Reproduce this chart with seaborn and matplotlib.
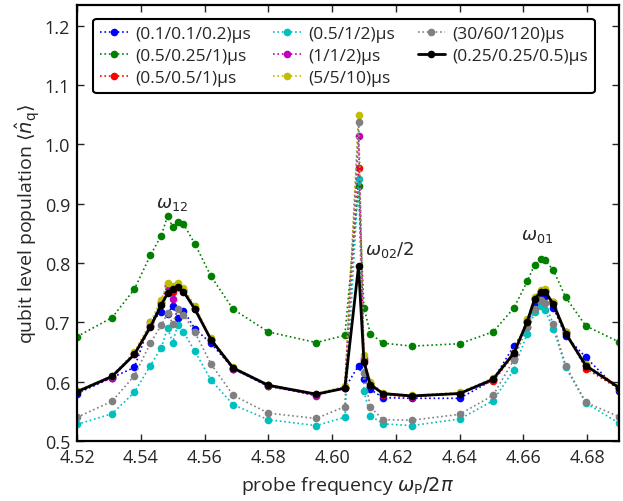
import numpy as np
import pandas as pd
import seaborn as sns
import matplotlib
matplotlib.use('Agg')
import matplotlib.pyplot as plt

# probe frequency grid (GHz)
freq = [4.520, 4.531, 4.538, 4.543, 4.5464, 4.5484, 4.550, 4.5516, 4.5534, 4.557,
        4.562, 4.569, 4.580, 4.595, 4.604, 4.6083, 4.610, 4.612, 4.616, 4.625,
        4.640, 4.6505, 4.657, 4.6612, 4.6635, 4.6654, 4.6667, 4.6694, 4.6733, 4.6796,
        4.690]

pop_01 = [0.580, 0.607, 0.624, 0.700, 0.717, 0.714, 0.728, 0.708, 0.720, 0.689,
          0.665, 0.622, 0.592, 0.578, 0.589, 0.627, 0.604, 0.587, 0.573, 0.572,
          0.572, 0.603, 0.660, 0.692, 0.730, 0.743, 0.745, 0.725, 0.677, 0.641,
          0.585]
pop_05_025 = [0.676, 0.708, 0.756, 0.813, 0.846, 0.879, 0.861, 0.870, 0.866, 0.832,
              0.778, 0.722, 0.684, 0.666, 0.678, 0.930, 0.725, 0.681, 0.665, 0.660,
              0.664, 0.684, 0.724, 0.769, 0.797, 0.806, 0.805, 0.788, 0.742, 0.694,
              0.667]
pop_05_05 = [0.585, 0.607, 0.648, 0.695, 0.735, 0.763, 0.752, 0.760, 0.755, 0.723,
             0.672, 0.622, 0.593, 0.577, 0.590, 0.960, 0.636, 0.597, 0.578, 0.574,
             0.581, 0.601, 0.645, 0.700, 0.740, 0.752, 0.753, 0.733, 0.683, 0.622,
             0.588]
pop_05_1 = [0.528, 0.546, 0.582, 0.627, 0.657, 0.691, 0.666, 0.696, 0.684, 0.651,
            0.603, 0.561, 0.536, 0.526, 0.540, 0.941, 0.584, 0.543, 0.529, 0.526,
            0.537, 0.568, 0.620, 0.681, 0.717, 0.727, 0.721, 0.689, 0.624, 0.564,
            0.530]
pop_1_1 = [0.584, 0.606, 0.647, 0.694, 0.733, 0.762, 0.739, 0.761, 0.754, 0.724,
           0.670, 0.621, 0.594, 0.576, 0.591, 1.014, 0.640, 0.598, 0.579, 0.575,
           0.580, 0.605, 0.647, 0.702, 0.741, 0.753, 0.754, 0.734, 0.683, 0.628,
           0.591]
pop_5_5 = [0.585, 0.610, 0.650, 0.700, 0.738, 0.767, 0.761, 0.767, 0.758, 0.728,
           0.673, 0.625, 0.595, 0.580, 0.592, 1.050, 0.645, 0.600, 0.581, 0.577,
           0.582, 0.606, 0.650, 0.705, 0.743, 0.755, 0.756, 0.735, 0.684, 0.629,
           0.592]
pop_30_60 = [0.540, 0.567, 0.610, 0.665, 0.695, 0.715, 0.698, 0.722, 0.713, 0.683,
             0.630, 0.577, 0.547, 0.538, 0.558, 1.038, 0.614, 0.557, 0.536, 0.535,
             0.545, 0.577, 0.637, 0.693, 0.722, 0.737, 0.733, 0.697, 0.627, 0.565,
             0.541]
pop_025 = [0.583, 0.609, 0.646, 0.692, 0.729, 0.749, 0.757, 0.759, 0.752, 0.722,
           0.671, 0.623, 0.594, 0.579, 0.589, 0.795, 0.633, 0.595, 0.580, 0.576,
           0.580, 0.604, 0.648, 0.701, 0.739, 0.751, 0.752, 0.731, 0.681, 0.627,
           0.590]

labels = ['(0.1/0.1/0.2)µs', '(0.5/0.25/1)µs', '(0.5/0.5/1)µs', '(0.5/1/2)µs',
          '(1/1/2)µs', '(5/5/10)µs', '(30/60/120)µs', '(0.25/0.25/0.5)µs']
series = [pop_01, pop_05_025, pop_05_05, pop_05_1, pop_1_1, pop_5_5, pop_30_60, pop_025]
colors = ['#0000ff', '#008000', '#ff0000', '#00bfbf', '#bf00bf', '#bfbf00', '#808080', '#000000']

sns.set_style('ticks')
plt.rcParams['font.family'] = ['Open Sans', 'DejaVu Sans']
plt.rcParams['mathtext.fontset'] = 'dejavusans'

fig = plt.figure(figsize=(6.23, 5.02), dpi=100)
ax = fig.add_axes([0.1236, 0.1195, 0.87, 0.8685])

for vals, lab, col in zip(series, labels, colors):
    solid = col == '#000000'
    sns.lineplot(x=freq, y=vals, ax=ax, color=col, label=lab, sort=False,
                 linestyle='-' if solid else ':', linewidth=2.0 if solid else 1.2,
                 marker='o', markersize=5.5, markeredgewidth=0)

ax.set_xlim(4.52, 4.69)
ax.set_ylim(0.5, 1.235)
xt = np.arange(4.52, 4.681, 0.02)
yt = np.arange(0.5, 1.21, 0.1)
ax.set_xticks(xt)
ax.set_yticks(yt)
ax.set_xticklabels(['%.2f' % t for t in xt])
ax.set_yticklabels(['%.1f' % t for t in yt])
ax.tick_params(direction='in', top=True, right=True, length=5, width=1,
               labelsize=13, pad=5)
for s in ax.spines.values():
    s.set_linewidth(1.6)
    s.set_color('black')

ax.set_xlabel(r'probe frequency $\omega_{\rm P}/2\pi$', fontsize=14, labelpad=6)
ax.set_ylabel(r'qubit level population $\langle\hat{n}_{\rm q}\rangle$', fontsize=14, labelpad=2)

ax.text(4.5498, 0.902, r'$\omega_{12}$', fontsize=13, ha='center', va='center')
ax.text(4.6102, 0.823, r'$\omega_{02}/2$', fontsize=13, ha='left', va='center')
ax.text(4.6643, 0.847, r'$\omega_{01}$', fontsize=13, ha='center', va='center')

leg = ax.legend(loc='upper center', bbox_to_anchor=(0.493, 0.988), ncol=3,
                fontsize=12.5, frameon=True, fancybox=True, numpoints=1,
                handlelength=1.6, handletextpad=0.4, columnspacing=1.3,
                labelspacing=0.35, borderpad=0.4)
leg.get_frame().set_edgecolor('black')
leg.get_frame().set_linewidth(1.5)
leg.get_frame().set_alpha(1)

fig.savefig('out.png', dpi=100)
